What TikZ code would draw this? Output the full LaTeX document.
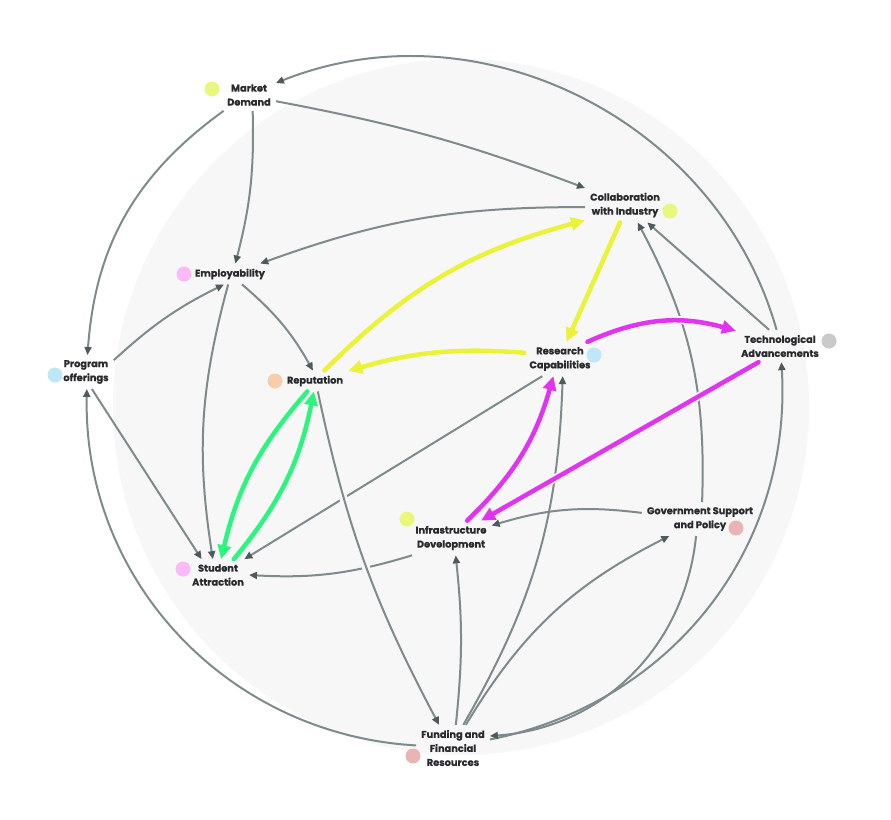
\documentclass[tikz,border=0pt]{standalone}
\usepackage{fontspec}
\setmainfont{Poppins}[BoldFeatures={FakeBold=0.8}]
\usepackage{tikz}
\usetikzlibrary{arrows.meta}
\definecolor{bgfill}{RGB}{247,247,247}
\definecolor{linkgray}{RGB}{126,139,140}
\definecolor{tipgray}{RGB}{78,90,92}
\definecolor{inkdark}{RGB}{42,42,46}
\definecolor{yellowline}{RGB}{234,243,55}
\definecolor{magline}{RGB}{226,52,240}
\definecolor{greenline}{RGB}{44,245,126}
\definecolor{dotlime}{RGB}{234,247,125}
\definecolor{dotpink}{RGB}{250,186,245}
\definecolor{dotblue}{RGB}{190,232,250}
\definecolor{dotpeach}{RGB}{246,206,172}
\definecolor{dotgray}{RGB}{202,202,202}
\definecolor{dotrose}{RGB}{233,180,180}
\tikzset{
  concept/.style={align=center,text=inkdark,inner xsep=5pt,inner ysep=5pt,font=\fontsize{9.8}{14}\selectfont\bfseries},
  tagdot/.style={circle,fill=#1,minimum size=15pt,inner sep=0pt},
  link/.style={draw=linkgray,line width=2pt,-{Triangle[length=8pt,width=7pt,color=tipgray]}},
  hot/.style={draw=#1,line width=4.5pt,line cap=round,-{Triangle[length=14pt,width=13pt]}},
  cutgap/.style={preaction={draw=bgfill,line width=8pt,-,shorten <=12pt,shorten >=12pt}}
}

\begin{document}
\begin{tikzpicture}[x=1pt,y=-1pt]
  \useasboundingbox (0,0) rectangle (891,819);
  \fill[bgfill] (461,407) circle (348);

  % --- concepts ---
  \node[concept] (MD) at (249,95)  {Market\\Demand};
  \node[concept] (CI) at (625,205) {Collaboration\\with Industry};
  \node[concept] (EM) at (230,274) {Employability};
  \node[concept] (PO) at (86,372)  {Program\\offerings};
  \node[concept] (RP) at (315,381) {Reputation};
  \node[concept] (RC) at (560,359) {Research\\Capabilities};
  \node[concept] (TA) at (780,346) {Technological\\Advancements};
  \node[concept] (ID) at (451,538) {Infrastructure\\Development};
  \node[concept] (GS) at (700,519) {Government Support\\and Policy};
  \node[concept] (SA) at (218,575) {Student\\Attraction};
  \node[concept] (FU) at (453,748) {Funding and\\Financial\\Resources};

  % --- colour dots ---
  \node[tagdot=dotlime]  (MDd) at (212,89)  {};
  \node[tagdot=dotlime]  (CId) at (670,211) {};
  \node[tagdot=dotpink]  (EMd) at (184,274) {};
  \node[tagdot=dotblue]  (POd) at (55,375)  {};
  \node[tagdot=dotpeach] (RPd) at (275,381) {};
  \node[tagdot=dotblue]  (RCd) at (594,355) {};
  \node[tagdot=dotgray]  (TAd) at (829,341) {};
  \node[tagdot=dotlime]  (IDd) at (407,519) {};
  \node[tagdot=dotrose]  (GSd) at (736,528) {};
  \node[tagdot=dotpink]  (SAd) at (183,569) {};
  \node[tagdot=dotrose]  (FUd) at (413,756) {};

  % --- grey links ---
  \draw[link] (MD.-13) to[bend left=5] (CI.157);
  \draw[link] (MD.-77) to[bend left=8] (EM.63);
  \draw[link] (MD.-148) to[bend right=25] (PO.85);
  \draw[link] (TA.102) to[bend right=48] (MD.24);
  \draw[link] (TA.124) -- (CI.-38);
  \draw[link] (CI.-177) to[bend right=10] (EM.19);
  \draw[link] (GS.83) to[bend right=15] (CI.-54);
  \draw[link] (PO.23) to[bend left=8] (EM.-120);
  \draw[link] (EM.-41) to[bend left=10] (RP.101);
  \draw[link] (EM.-100) to[bend right=12] (SA.108);
  \draw[link] (PO.-71) -- (SA.136);
  \draw[link] (RC.-136) -- (SA.31);
  \draw[link] (ID.-156) to[bend left=10] (SA.0);
  \draw[link] (GS.174) to[bend right=12] (ID.17);
  \draw[link] (FU.83) to[bend right=6] (ID.-75);
  \draw[link] (FU.66) to[bend right=14] (RC.-81);
  \draw[link] (FU.61) to[bend left=16] (GS.-151);
  \draw[link] (FU.13) to[bend right=41] (TA.-85);
  \draw[link] (GS.-103) to[bend left=40] (FU.18);
  \draw[link] (FU.176) to[bend left=44] (PO.-87);
  \draw[link,cutgap] (RP.-75) to[bend right=8] (FU.121);

  % --- highlighted loops ---
  \draw[hot=yellowline] (CI.-106) -- (RC.69);
  \draw[hot=yellowline] (RP.48) to[bend left=15] (CI.-159);
  \draw[hot=yellowline] (RC.170) to[bend right=10] (RP.17);
  \draw[hot=magline,cutgap] (RC.32) to[bend left=20] (TA.161);
  \draw[hot=magline,cutgap] (TA.-143) -- (ID.30);
  \draw[hot=magline] (ID.47) to[bend right=15] (RC.-111);
  \draw[hot=greenline] (RP.-126) to[bend right=14] (SA.79);
  \draw[hot=greenline] (SA.45) to[bend right=14] (RP.-96);
\end{tikzpicture}
\end{document}
